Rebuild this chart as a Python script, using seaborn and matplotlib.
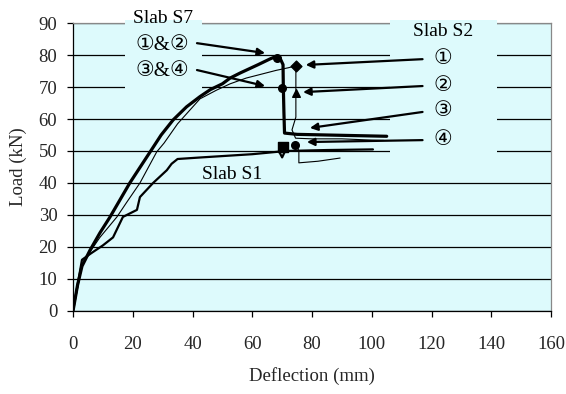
import matplotlib
matplotlib.use("Agg")
import matplotlib.pyplot as plt
import matplotlib.patches as mpatches
import seaborn as sns

# load-deflection readings (mm, kN)
s7_defl = [0, 1.5, 3, 5.7, 9, 12.4, 15.7, 19, 22.5, 25.8, 29.5, 33.5, 38, 42.5,
           46, 50, 52.6, 56, 62, 66, 67.6, 69.3, 70.3, 70.4, 70.6, 70.8, 75, 85, 95, 105]
s7_load = [0, 8, 14, 19, 24.4, 29.4, 34.7, 40, 45, 49.7, 55, 59.7, 63.8, 67,
           69.2, 71, 72.8, 74.4, 77, 78.8, 79.4, 79, 77, 70, 62, 55.6, 55.2, 55, 54.8, 54.6]

s2_defl = [0, 1.5, 3, 5.7, 9, 14.7, 18, 22.4, 28, 30.5, 35, 42.5, 48, 52.6, 58,
           62.6, 68, 72, 74.6, 74.6, 74.6, 73.3, 74.5, 80, 90, 100, 104]
s2_load = [0, 7, 14, 18.5, 23, 29.4, 34, 40, 49.7, 52.5, 58.5, 66.3, 69, 71,
           72.8, 73.9, 75.2, 76, 76.6, 68, 60.6, 56.6, 54, 53.8, 53.8, 53.4, 53.3]

s2_tail_defl = [74.5, 75.6, 75.6, 82, 89.4]
s2_tail_load = [52.5, 50, 46.3, 46.8, 47.8]

s1_defl = [0, 1.5, 3, 6, 10, 13.4, 16.7, 21.4, 22.4, 26.8, 31.4, 33, 35, 43,
           60, 69, 70, 71, 85, 100.4]
s1_load = [0, 8, 16, 18, 20.5, 23, 29.4, 31.6, 35.6, 40, 44, 46, 47.5, 48,
           49, 49.8, 48, 50, 50.3, 50.5]

# failure points
s7_pts_x = [68.3, 69.8]
s7_pts_y = [79, 69.8]
s2_pts_x = [74.6, 74.6]
s2_pts_y = [76.6, 68]
s2_pts_mark = ["D", "^"]
s1_pts_x = [70.3, 74.3]
s1_pts_y = [51.3, 52.0]

x_ticks = list(range(0, 161, 20))
y_ticks = list(range(0, 91, 10))

bg = "#ddfafc"
fam = ["Liberation Serif", "DejaVu Sans"]

sns.set_style("white")
plt.rcParams["font.family"] = fam

fig = plt.figure(figsize=(5.66, 3.94), dpi=100, facecolor="white")
ax = fig.add_axes([0.129, 0.2107, 0.8445, 0.7309])
ax.set_facecolor(bg)

ax.set_xlim(0, 160)
ax.set_ylim(0, 90)
ax.set_xticks(x_ticks)
ax.set_yticks(y_ticks)
ax.set_axisbelow(True)
ax.yaxis.grid(True, color="black", linewidth=0.9)
ax.xaxis.grid(False)

for side in ["left", "bottom"]:
    ax.spines[side].set_color("black")
    ax.spines[side].set_linewidth(0.9)
for side in ["top", "right"]:
    ax.spines[side].set_color("#888888")
    ax.spines[side].set_linewidth(0.9)

ax.tick_params(axis="both", direction="out", length=4.3, width=0.9,
               labelsize=13.5, color="black", left=True, bottom=True)
ax.tick_params(axis="x", pad=14)
ax.tick_params(axis="y", pad=7)

# label boxes that hide the gridlines behind the annotations
for x0, x1, y0, y1 in [(17.4, 43.2, 68.5, 91.0), (106, 142, 48.5, 91.0)]:
    ax.add_patch(mpatches.Rectangle((x0, y0), x1 - x0, y1 - y0, facecolor=bg,
                                    edgecolor="none", zorder=2.6, clip_on=False))

sns.lineplot(x=s1_defl, y=s1_load, ax=ax, sort=False, estimator=None,
             color="black", linewidth=1.6, zorder=4)
sns.lineplot(x=s2_defl, y=s2_load, ax=ax, sort=False, estimator=None,
             color="black", linewidth=0.8, zorder=5)
sns.lineplot(x=s2_tail_defl, y=s2_tail_load, ax=ax, sort=False, estimator=None,
             color="black", linewidth=0.8, zorder=5)
sns.lineplot(x=s7_defl, y=s7_load, ax=ax, sort=False, estimator=None,
             color="black", linewidth=2.3, zorder=6)

ax.scatter(s7_pts_x, s7_pts_y, marker="o", s=30, color="black", zorder=7)
for x, y, m in zip(s2_pts_x, s2_pts_y, s2_pts_mark):
    ax.scatter([x], [y], marker=m, s=30, color="black", zorder=7)
ax.scatter([s1_pts_x[0]], [s1_pts_y[0]], marker="s", s=55, color="black", zorder=7)
ax.scatter([s1_pts_x[1]], [s1_pts_y[1]], marker="o", s=30, color="black", zorder=7)

tfont = dict(fontsize=14, family=fam, color="black", zorder=8)
cfont = dict(fontsize=15, family=fam, color="black", zorder=8)
ax.text(30, 91.5, "Slab S7", ha="center", va="center", **tfont)
ax.text(30, 83.1, "①&②", ha="center", va="center", **cfont)
ax.text(30, 74.7, "③&④", ha="center", va="center", **cfont)
ax.text(123.8, 87.2, "Slab S2", ha="center", va="center", **tfont)
ax.text(53.2, 42.5, "Slab S1", ha="center", va="center", **tfont)

aprops = dict(arrowstyle="-|>", color="black", lw=1.6, mutation_scale=11,
              shrinkA=0, shrinkB=0)
left_arrows = [((41.5, 83.7), (64.3, 80.6)), ((41.5, 75.3), (64.3, 70.3))]
for start, tip in left_arrows:
    ax.annotate("", xy=tip, xytext=start, arrowprops=aprops, zorder=8)

right_labels = ["①", "②", "③", "④"]
right_label_y = [78.7, 70.3, 62.2, 53.4]
right_tips = [(77.9, 76.9), (77.0, 68.4), (79.3, 57.2), (78.3, 52.8)]
for lab, ly, tip in zip(right_labels, right_label_y, right_tips):
    ax.text(123.8, ly, lab, ha="center", va="center", **cfont)
    ax.annotate("", xy=tip, xytext=(117, ly), arrowprops=aprops, zorder=8)

ax.set_xlabel("Deflection (mm)", fontsize=13.5, labelpad=10)
ax.set_ylabel("Load (kN)", fontsize=13.5, labelpad=8)

fig.savefig("out.png", dpi=100, facecolor="white")
